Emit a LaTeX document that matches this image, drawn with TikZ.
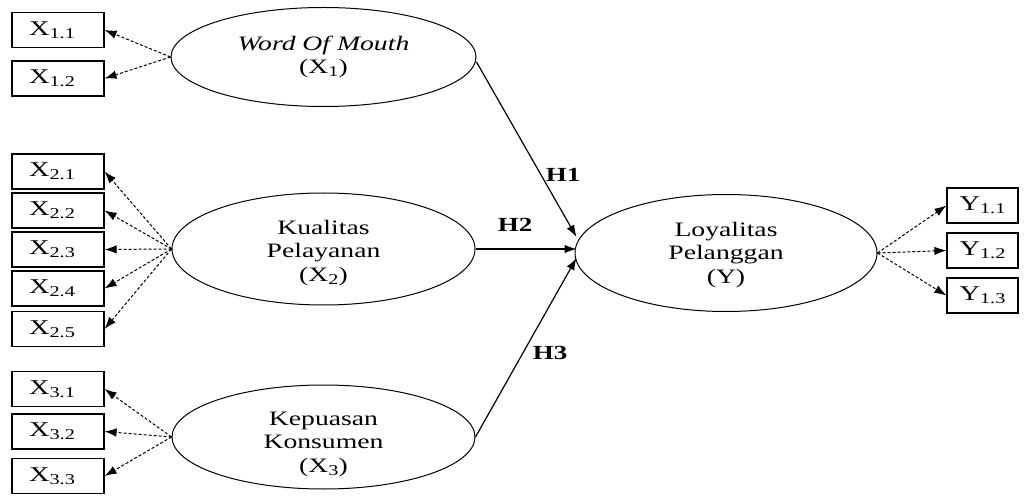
\documentclass[tikz,border=0pt]{standalone}
\usepackage{fontspec}
\setmainfont{Liberation Serif}[FakeStretch=1.35]
\usetikzlibrary{arrows.meta,shapes.geometric,calc}
\newcommand{\sbs}[1]{{\fontsize{15}{15}\selectfont\raisebox{-3pt}{#1}}}
\begin{document}
\begin{tikzpicture}[x=1pt,y=-1pt,
  ind/.style={draw, line width=1.2pt, minimum width=92pt, minimum height=35pt, inner sep=0pt, font=\fontsize{21}{23}\selectfont},
  indy/.style={ind, minimum width=71pt},
  lat/.style={draw, ellipse, line width=1pt, inner sep=0pt},
  txt/.style={align=center, inner sep=0pt, font=\fontsize{20.5}{23.5}\selectfont},
  dsh/.style={dash pattern=on 3pt off 2pt, line width=1pt, -{Latex[length=12pt,width=8.5pt]}},
  sol/.style={line width=1.2pt, -{Latex[length=12pt,width=8.5pt]}},
  hl/.style={inner sep=0pt, font=\fontsize{20}{23}\selectfont\bfseries}]
\useasboundingbox (0,0) rectangle (1030,502);
\fill[white] (0,0) rectangle (1030,502);

% latent variables
\node[lat, minimum width=305pt, minimum height=99pt] (e1) at (323.5,57) {};
\node[lat, minimum width=303pt, minimum height=112pt] (e2) at (323.5,249) {};
\node[lat, minimum width=303pt, minimum height=104pt] (e3) at (323.5,437) {};
\node[lat, minimum width=302pt, minimum height=117pt] (ly) at (726,253) {};

\node[txt] (t1) at (323.5,57) {\itshape Word Of Mouth\\(X\sbs{1})};
\node[txt] (t2) at (323.5,253) {Kualitas\\Pelayanan\\(X\sbs{2})};
\node[txt] (t3) at (323.5,444) {Kepuasan\\Konsumen\\(X\sbs{3})};
\node[txt] (ty) at (726,255) {Loyalitas\\Pelanggan\\(Y)};

% indicators
\node[ind] (x11) at (58,30) {X\sbs{1.1}\hspace*{12pt}};
\node[ind] (x12) at (58,78.5) {X\sbs{1.2}\hspace*{12pt}};
\node[ind] (x21) at (58,171.5) {X\sbs{2.1}\hspace*{12pt}};
\node[ind] (x22) at (58,210.5) {X\sbs{2.2}\hspace*{12pt}};
\node[ind] (x23) at (58,249.5) {X\sbs{2.3}\hspace*{12pt}};
\node[ind] (x24) at (58,288.5) {X\sbs{2.4}\hspace*{12pt}};
\node[ind] (x25) at (58,329) {X\sbs{2.5}\hspace*{12pt}};
\node[ind] (x31) at (58,389) {X\sbs{3.1}\hspace*{12pt}};
\node[ind] (x32) at (58,431.5) {X\sbs{3.2}\hspace*{12pt}};
\node[ind] (x33) at (58,476) {X\sbs{3.3}\hspace*{12pt}};
\node[indy] (y11) at (982.5,205.5) {Y\sbs{1.1}};
\node[indy] (y12) at (982.5,250.5) {Y\sbs{1.2}};
\node[indy] (y13) at (982.5,295.5) {Y\sbs{1.3}};

% reflective arrows
\foreach \b in {x11,x12} \draw[dsh] (e1.west) -- (\b.east);
\foreach \b in {x21,x22,x23,x24,x25} \draw[dsh] (e2.west) -- (\b.east);
\foreach \b in {x31,x32,x33} \draw[dsh] (e3.west) -- (\b.east);
\foreach \b in {y11,y12,y13} \draw[dsh] (ly.east) -- (\b.west);

% structural paths
\coordinate (h1e) at ($(ly.west)+(2,-16)$);
\coordinate (h2e) at ($(ly.west)+(2,-4)$);
\coordinate (h3e) at ($(ly.west)+(2,5)$);
\coordinate (h1s) at ($(e1.east)+(0,5)$);
\draw[sol] (h1s) -- (h1e);
\draw[sol] (e2.east) -- (h2e);
\draw[sol] (e3.east) -- (h3e);

\node[hl] (l1) at (563,175) {H1};
\node[hl] (l2) at (515,225) {H2};
\node[hl] (l3) at (550,353) {H3};
\end{tikzpicture}
\end{document}
